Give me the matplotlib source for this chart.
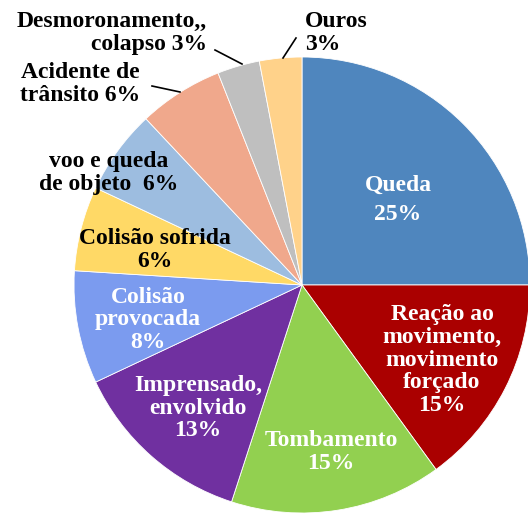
import matplotlib.pyplot as plt

# Distribuição dos tipos de acidente (%)
categorias = ['Queda', 'Reação ao movimento, movimento forçado', 'Tombamento',
              'Imprensado, envolvido', 'Colisão provocada', 'Colisão sofrida',
              'voo e queda de objeto', 'Acidente de trânsito',
              'Desmoronamento, colapso', 'Ouros']
valores = [25, 15, 15, 13, 8, 6, 6, 6, 3, 3]
rotulos = ['Queda\n25%', 'Reação ao\nmovimento,\nmovimento\nforçado\n15%',
           'Tombamento\n15%', 'Imprensado,\nenvolvido\n13%',
           'Colisão\nprovocada\n8%', 'Colisão sofrida\n6%',
           'voo e queda\nde objeto  6%', 'Acidente de\ntrânsito 6%',
           'Desmoronamento,,\ncolapso 3%', 'Ouros\n3%']
cores = ['#4F86BE', '#AA0000', '#92D050', '#7030A0', '#7B9BEF',
         '#FFD966', '#9DBDE0', '#F0A88C', '#BFBFBF', '#FFD28A']

W, H = 528, 514
fig = plt.figure(figsize=(W / 100, H / 100), dpi=100)
ax = fig.add_axes([0, 0, 1, 1])

cx, cy, r = 302, H - 285, 228
ax.pie(valores, colors=cores, startangle=90, counterclock=False,
       center=(cx, cy), radius=r, frame=True,
       wedgeprops=dict(linewidth=0.6, edgecolor='white'))
ax.set_xlim(0, W)
ax.set_ylim(0, H)
ax.set_aspect('equal')
ax.axis('off')

fonte = dict(family='Liberation Serif', weight='bold', fontsize=17)

# posição (x, y em pixels a partir do topo), cor, alinhamento, espaçamento
pos = [(398, 200, 'white', 'center', 1.55),
       (442, 360, 'white', 'center', 1.12),
       (331, 452, 'white', 'center', 1.12),
       (198, 408, 'white', 'center', 1.12),
       (148, 320, 'white', 'center', 1.12),
       (155, 250, 'black', 'center', 1.12),
       (109, 173, 'black', 'center', 1.12),
       (80, 84, 'black', 'center', 1.12),
       (207, 33, 'black', 'right', 1.12),
       (305, 33, 'black', 'left', 1.12)]
for txt, (x, y, c, ha, ls) in zip(rotulos, pos):
    ax.text(x, H - y, txt, color=c, ha=ha, va='center', multialignment=ha,
            linespacing=ls, **fonte)

# linhas de chamada dos rótulos externos
linhas = [((152, 86), (180, 92)),
          ((215, 50), (242, 64)),
          ((283, 58), (296, 38))]
for (x0, y0), (x1, y1) in linhas:
    ax.plot([x0, x1], [H - y0, H - y1], color='black', lw=1.2)

fig.savefig('out.png', dpi=100)
